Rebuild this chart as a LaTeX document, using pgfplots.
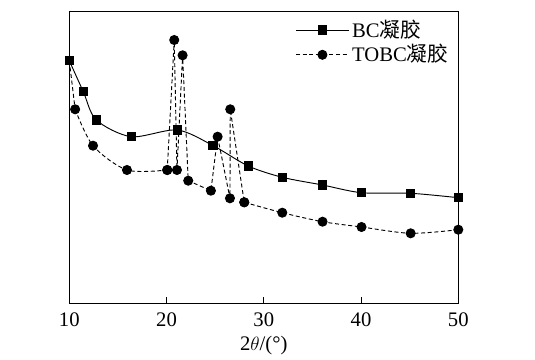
\documentclass[border=0pt]{standalone}
\usepackage{fontspec}
\setmainfont{Liberation Serif}
\newfontfamily\cjk{Noto Sans CJK SC}
\usepackage{pgfplots}
\pgfplotsset{compat=1.18}
\begin{document}
\fontsize{15.5}{18}\selectfont
\begin{tikzpicture}[x=0.75pt,y=0.75pt]
\path[use as bounding box] (-69.3,-56.7) rectangle (465.7,303.3);
\begin{axis}[
  at={(0,0)}, anchor=south west,
  scale only axis,
  width=291.75pt, height=219pt,
  xmin=10, xmax=50, ymin=0, ymax=292,
  xtick={10,20,30,40,50},
  ytick=\empty,
  tick align=inside,
  xtick pos=bottom,
  major tick length=4.5pt,
  axis line style={line width=0.8pt},
  tick style={line width=0.8pt, black},
  /pgf/number format/assume math mode=true,
  tick label style={font=\fontsize{15.5}{18}\selectfont},
  xticklabel style={yshift=-2pt},
  xlabel={2$\theta$/(°)},
  xlabel style={font=\fontsize{15.5}{18}\selectfont, yshift=4pt},
  legend style={at={(0.985,0.985)}, anchor=north east, draw=none, fill=none,
    font=\fontsize{15.5}{18}\selectfont, row sep=-1pt, inner sep=1pt},
  legend cell align=left,
  legend image code/.code={
    \draw[mark repeat=2,mark phase=2,#1] plot coordinates {(0cm,0cm) (0.7cm,0cm) (1.4cm,0cm)};
  },
]
\addplot[black, line width=0.7pt, smooth, tension=0.5, mark=square*, mark size=3.2pt, mark options={solid}]
coordinates {
(10,242.6) (11.44,211.6) (12.78,183.3) (16.37,166.6) (21.1,173.3) (24.8,157.6)
(28.4,137.3) (31.9,126) (36.04,118.3) (40.05,110.6) (45.1,110) (50,105.6)
};
\addlegendentry{BC{\cjk 凝胶}}
% TOBC, segment 1 (smooth)
\addplot[black, line width=0.7pt, dash pattern=on 3pt off 2pt, smooth, tension=0.5, mark=*, mark size=3.4pt, mark options={solid}, forget plot]
coordinates {
(10.6,194) (12.44,157.6) (15.93,133.3) (20.07,133.3)
};
\addplot[black, line width=0.7pt, dash pattern=on 3pt off 2pt, mark=none, forget plot]
coordinates {(10,242.6) (10.6,194)};
% TOBC, segment 2 (sharp peaks)
\addplot[black, line width=0.7pt, dash pattern=on 3pt off 2pt, mark=*, mark size=3.4pt, mark options={solid}, forget plot]
coordinates {
(20.07,133.3) (20.79,263.3) (21.07,133.3) (21.65,248) (22.23,122.6) (24.56,112.6)
(25.25,166.6) (26.52,105) (26.55,194) (27.99,101)
};
% TOBC, segment 3 (smooth)
\addplot[black, line width=0.7pt, dash pattern=on 3pt off 2pt, smooth, tension=0.5, mark=*, mark size=3.4pt, mark options={solid}]
coordinates {
(27.99,101) (31.9,90.6) (36.04,81.6) (40.05,76.3) (45.1,70) (50,73.6)
};
\addlegendentry{TOBC{\cjk 凝胶}}
\end{axis}
\end{tikzpicture}
\end{document}
